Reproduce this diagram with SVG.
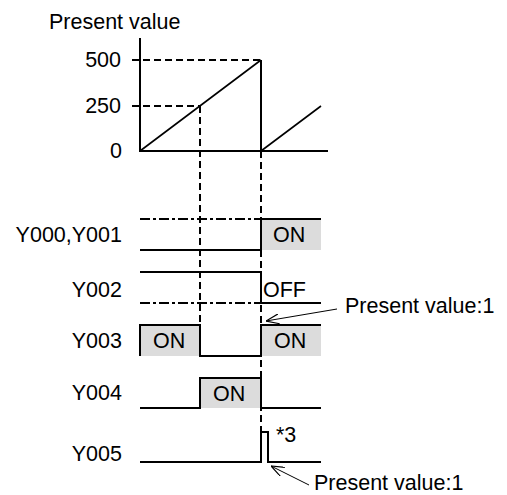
<svg xmlns="http://www.w3.org/2000/svg" width="507" height="495" viewBox="0 0 507 495">
<style>
text{font-family:"Liberation Sans",Arial,sans-serif;font-size:21.5px;fill:#000}
.lbl{text-anchor:end}
.s{fill:none;stroke:#000;stroke-width:2}
.r{fill:none;stroke:#000;stroke-width:1.6}
.d{fill:none;stroke:#000;stroke-width:2;stroke-dasharray:7,4}
.dd{fill:none;stroke:#000;stroke-width:2;stroke-dasharray:10,3,3,3}
.g{fill:#dcdcdc;stroke:none}
.a{fill:none;stroke:#000;stroke-width:1}
</style>
<defs>
<marker id="ah" viewBox="0 0 13 10" refX="13" refY="5" markerWidth="13" markerHeight="10" markerUnits="userSpaceOnUse" orient="auto">
<path d="M0,0 L13,5 L0,10" fill="none" stroke="#000" stroke-width="1.2"/>
</marker>
</defs>
<g id="graph">
<text x="49" y="29">Present value</text>
<text class="lbl" x="121" y="67">500</text>
<text class="lbl" x="121" y="113">250</text>
<text class="lbl" x="122" y="158">0</text>
<path class="s" d="M140,38 V151 H328"/>
<path class="r" d="M140,151 L261,60 M261,151 L321,106"/>
<path class="s" d="M261,60 V151"/>
</g>
<g id="Y000">
<text class="lbl" x="122" y="242">Y000,Y001</text>
<rect class="g" x="261" y="219" width="60" height="31"/>
<path class="dd" d="M140,219 H261"/>
<path class="s" d="M140,250 H261 V219 H321"/>
<text x="273" y="242">ON</text>
</g>
<g id="Y002">
<text class="lbl" x="122" y="297">Y002</text>
<path class="s" d="M140,272 H261 V303 H321"/>
<path class="dd" d="M140,303 H261"/>
<text x="263" y="297">OFF</text>
</g>
<g id="Y003">
<text class="lbl" x="122" y="348">Y003</text>
<rect class="g" x="140" y="325" width="60" height="31"/>
<rect class="g" x="261" y="325" width="60" height="31"/>
<path class="s" d="M140,356 V325 H200 V356 H261 V325 H321"/>
<text x="153" y="348">ON</text>
<text x="274" y="348">ON</text>
</g>
<g id="Y004">
<text class="lbl" x="122" y="400">Y004</text>
<rect class="g" x="200" y="378" width="61" height="30"/>
<path class="s" d="M140,408 H200 V378 H261 V408 H321"/>
<text x="213" y="401">ON</text>
</g>
<g id="Y005">
<text class="lbl" x="122" y="461">Y005</text>
<path class="s" d="M140,462 H261 V432 H268 V462 H321"/>
<text x="276" y="442">*3</text>
</g>
<g id="connectors">
<path class="d" d="M132,60 H261"/>
<path class="d" d="M132,106 H200"/>
<path class="d" d="M200,106 V325"/>
<path class="d" d="M261,151 V432"/>
<path class="a" d="M337,309 L266,321" marker-end="url(#ah)"/>
<path class="a" d="M309,485 L271,466" marker-end="url(#ah)"/>
</g>
<g id="notes">
<text x="345" y="313">Present value:1</text>
<text x="314" y="490">Present value:1</text>
</g>
</svg>
